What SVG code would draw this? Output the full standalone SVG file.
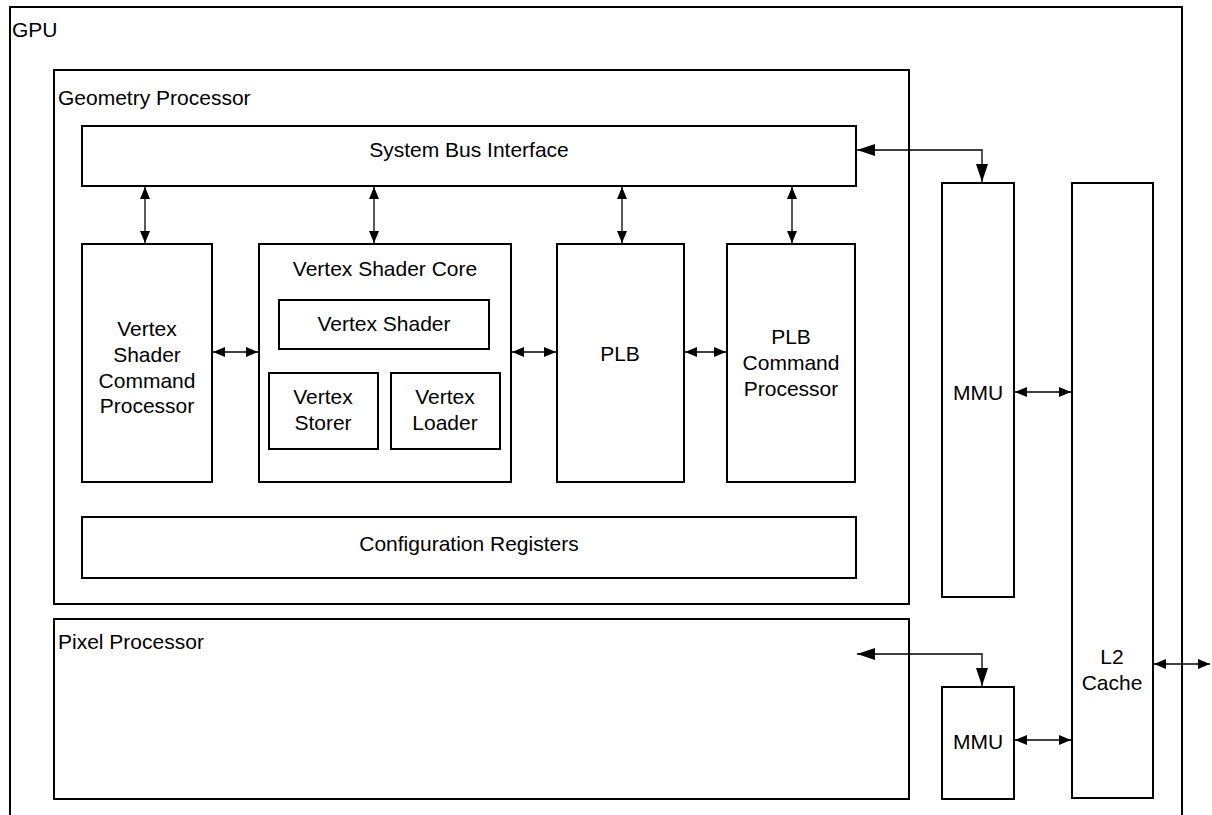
<svg xmlns="http://www.w3.org/2000/svg" width="1212" height="815" viewBox="0 0 1212 815">
<style>
.b{fill:#fff;stroke:#000;stroke-width:2}
.c{fill:none;stroke:#000;stroke-width:1.3}
text{font-family:"Liberation Sans",Arial,sans-serif;font-size:21px;fill:#000}
.m{text-anchor:middle}
</style>
<defs>
<marker id="a" viewBox="0 0 12 10" refX="12" refY="5" markerWidth="12" markerHeight="10" markerUnits="userSpaceOnUse" orient="auto-start-reverse"><path d="M0,0L12,5L0,10z" fill="#000"/></marker>
<marker id="L" viewBox="0 0 18 12" refX="18" refY="6" markerWidth="18" markerHeight="12" markerUnits="userSpaceOnUse" orient="auto-start-reverse"><path d="M0,0L18,6L0,12z" fill="#000"/></marker>
</defs>
<g id="gpu"><path class="b" d="M10,816V7H1182V816"/><text x="12" y="37">GPU</text></g>
<g id="geometry"><rect class="b" x="54" y="70" width="855" height="534"/><text x="58" y="105">Geometry Processor</text></g>
<g id="pixel"><rect class="b" x="54" y="619" width="855" height="180"/><text x="58" y="649">Pixel Processor</text></g>
<g id="sbi"><rect class="b" x="82" y="126" width="774" height="60"/><text class="m" x="469" y="157">System Bus Interface</text></g>
<g id="vscp"><rect class="b" x="82" y="244" width="130" height="238"/><text class="m" x="147" y="336">Vertex</text><text class="m" x="147" y="362">Shader</text><text class="m" x="147" y="388">Command</text><text class="m" x="147" y="413">Processor</text></g>
<g id="vsc"><rect class="b" x="259" y="244" width="252" height="238"/><text class="m" x="385" y="276">Vertex Shader Core</text></g>
<g id="vs"><rect class="b" x="279" y="300" width="210" height="49"/><text class="m" x="384" y="331">Vertex Shader</text></g>
<g id="vstorer"><rect class="b" x="269" y="373" width="109" height="76"/><text class="m" x="323" y="404">Vertex</text><text class="m" x="323" y="430">Storer</text></g>
<g id="vloader"><rect class="b" x="391" y="373" width="109" height="76"/><text class="m" x="445" y="404">Vertex</text><text class="m" x="445" y="430">Loader</text></g>
<g id="plb"><rect class="b" x="557" y="244" width="127" height="238"/><text class="m" x="620" y="361">PLB</text></g>
<g id="plbcp"><rect class="b" x="727" y="244" width="128" height="238"/><text class="m" x="791" y="344">PLB</text><text class="m" x="791" y="370">Command</text><text class="m" x="791" y="396">Processor</text></g>
<g id="config"><rect class="b" x="82" y="517" width="774" height="61"/><text class="m" x="469" y="551">Configuration Registers</text></g>
<g id="mmu1"><rect class="b" x="942" y="183" width="72" height="414"/><text class="m" x="978" y="400">MMU</text></g>
<g id="mmu2"><rect class="b" x="942" y="687" width="72" height="112"/><text class="m" x="978" y="749">MMU</text></g>
<g id="l2"><rect class="b" x="1072" y="183" width="81" height="615"/><text class="m" x="1112" y="664">L2</text><text class="m" x="1112" y="690">Cache</text></g>
<g id="connectors">
<path class="c" d="M145,187V243" marker-start="url(#a)" marker-end="url(#a)"/>
<path class="c" d="M374,187V243" marker-start="url(#a)" marker-end="url(#a)"/>
<path class="c" d="M622,187V243" marker-start="url(#a)" marker-end="url(#a)"/>
<path class="c" d="M792,187V243" marker-start="url(#a)" marker-end="url(#a)"/>
<path class="c" d="M213,352H258" marker-start="url(#a)" marker-end="url(#a)"/>
<path class="c" d="M512,352H556" marker-start="url(#a)" marker-end="url(#a)"/>
<path class="c" d="M685,352H726" marker-start="url(#a)" marker-end="url(#a)"/>
<path class="c" d="M1015,392H1071" marker-start="url(#a)" marker-end="url(#a)"/>
<path class="c" d="M1015,740H1071" marker-start="url(#a)" marker-end="url(#a)"/>
<path class="c" d="M1154,664H1210" marker-start="url(#a)" marker-end="url(#a)"/>
<path class="c" d="M857,150H982V182" marker-start="url(#L)" marker-end="url(#L)"/>
<path class="c" d="M857,654H982V686" marker-start="url(#L)" marker-end="url(#L)"/>
</g>
</svg>
